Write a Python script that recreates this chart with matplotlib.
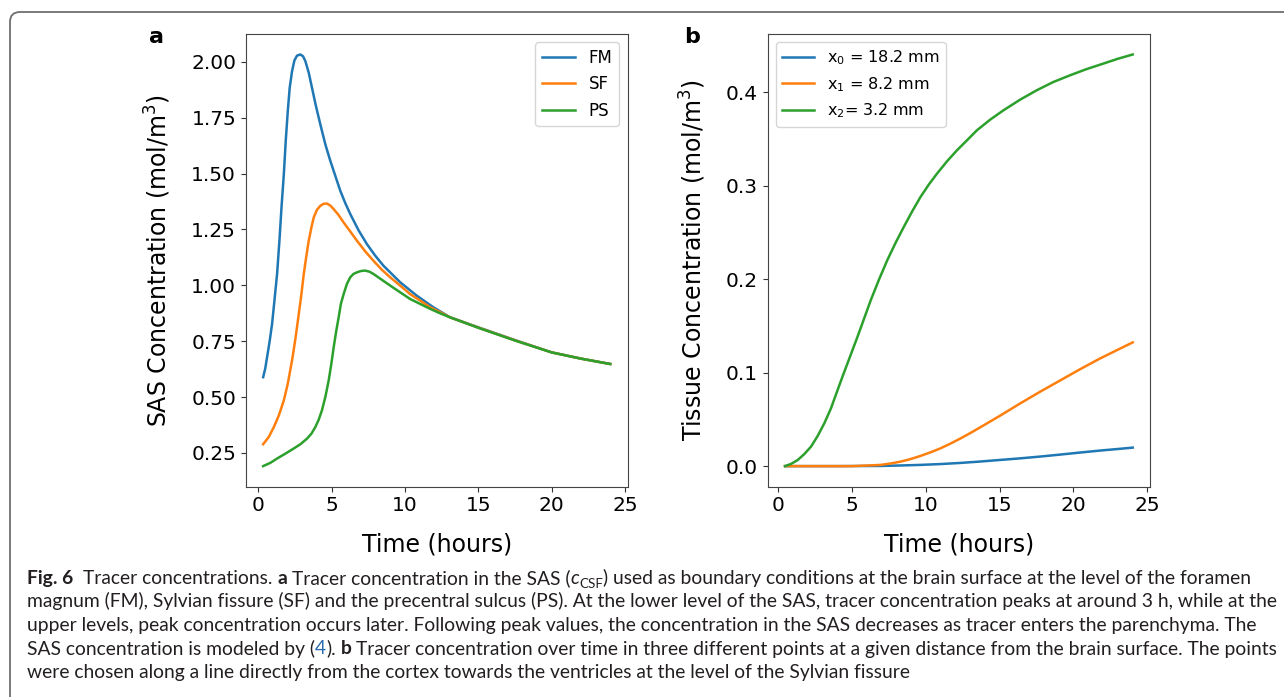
import matplotlib
matplotlib.use("Agg")
import matplotlib.pyplot as plt
from matplotlib.patches import FancyBboxPatch
from matplotlib.transforms import IdentityTransform

# panel a: SAS concentration (mol/m^3) vs time (hours)
fm_t = [0.33, 0.47, 0.6, 0.78, 0.94, 1.1, 1.28, 1.44, 1.58, 1.74, 1.87, 2.01, 2.14, 2.3,
        2.46, 2.64, 2.87, 3.05, 3.21, 3.44, 3.66, 3.93, 4.23, 4.57, 4.91, 5.25, 5.59, 5.93,
        6.27, 6.83, 7.4, 7.97, 8.53, 9.67, 10.8, 11.93, 13.07, 15, 17.5, 20, 22, 24]
fm = [0.589, 0.627, 0.679, 0.753, 0.828, 0.932, 1.051, 1.2, 1.348, 1.497, 1.646, 1.78, 1.884, 1.958,
      2.006, 2.028, 2.033, 2.025, 2.003, 1.951, 1.884, 1.802, 1.72, 1.631, 1.557, 1.49, 1.423, 1.368,
      1.319, 1.247, 1.185, 1.133, 1.088, 1.014, 0.954, 0.902, 0.857, 0.812, 0.755, 0.70, 0.672, 0.648]
sf_t = [0.33, 0.72, 1.06, 1.4, 1.74, 2.01, 2.3, 2.53, 2.76, 2.94, 3.1, 3.28, 3.44, 3.62,
        3.78, 4.0, 4.23, 4.46, 4.68, 4.91, 5.14, 5.48, 5.82, 6.27, 6.72, 7.29, 7.85, 8.42,
        8.99, 9.67, 10.35, 11.03, 11.71, 12.39, 13.07, 15, 17.5, 20, 22, 24]
sf = [0.289, 0.322, 0.366, 0.418, 0.485, 0.56, 0.664, 0.761, 0.872, 0.961, 1.051, 1.133, 1.2, 1.259,
      1.304, 1.338, 1.356, 1.365, 1.366, 1.357, 1.341, 1.314, 1.281, 1.241, 1.2, 1.152, 1.11, 1.07,
      1.036, 0.999, 0.961, 0.932, 0.902, 0.88, 0.857, 0.811, 0.754, 0.70, 0.672, 0.648]
ps_t = [0.33, 0.83, 1.28, 1.85, 2.42, 2.87, 3.32, 3.62, 3.89, 4.12, 4.34, 4.57, 4.8, 4.98,
        5.14, 5.32, 5.48, 5.63, 5.82, 6.04, 6.27, 6.49, 6.72, 6.99, 7.29, 7.58, 7.85, 8.42,
        8.99, 9.67, 10.35, 11.03, 11.71, 12.39, 13.07, 15, 17.5, 20, 22, 24]
ps = [0.191, 0.206, 0.225, 0.247, 0.27, 0.289, 0.314, 0.336, 0.366, 0.399, 0.441, 0.5, 0.575, 0.649,
      0.723, 0.798, 0.857, 0.917, 0.961, 1.006, 1.036, 1.051, 1.058, 1.064, 1.066, 1.061, 1.051, 1.025,
      0.999, 0.969, 0.939, 0.917, 0.895, 0.875, 0.857, 0.81, 0.753, 0.70, 0.672, 0.648]
sas_labels = ["FM", "SF", "PS"]

# panel b: tissue concentration (mol/m^3) vs time (hours)
x0_t = [0.45, 4.0, 7.0, 8.28, 9.63, 10.98, 12.33, 13.68, 15.03, 16.38, 17.73, 19.08, 20.43,
        21.78, 23.13, 24.02]
x0 = [0.0, 0.0, 0.0002, 0.0007, 0.0013, 0.0022, 0.0034, 0.0049, 0.0066, 0.0083, 0.0102, 0.0123,
      0.0145, 0.0166, 0.0185, 0.0198]
x1_t = [0.45, 3.0, 5.0, 6.25, 6.93, 7.6, 8.28, 8.95, 9.63, 10.3, 10.98, 11.65, 12.33, 13.0,
        13.68, 14.35, 15.03, 16.38, 17.73, 19.08, 20.43, 21.78, 23.13, 24.02]
x1 = [0.0, 0.0, 0.0, 0.0008, 0.0013, 0.0028, 0.0048, 0.0075, 0.0109, 0.0147, 0.019, 0.024, 0.0295,
      0.0353, 0.0415, 0.0477, 0.054, 0.067, 0.0795, 0.0915, 0.1035, 0.115, 0.1255, 0.1324]
x2_t = [0.45, 0.86, 1.31, 1.76, 2.21, 2.66, 3.11, 3.56, 4.01, 4.34, 4.68, 5.02, 5.36, 5.81,
        6.26, 6.82, 7.38, 7.94, 8.5, 9.07, 9.63, 10.19, 10.75, 11.43, 12.1, 12.78, 13.45,
        14.35, 15.25, 16.38, 17.5, 18.63, 19.75, 20.88, 22.0, 23.01, 24.02]
x2 = [0.0, 0.0024, 0.0066, 0.013, 0.0209, 0.0323, 0.0458, 0.0618, 0.0814, 0.0957, 0.1099, 0.1242,
      0.1384, 0.158, 0.1776, 0.1997, 0.2204, 0.2389, 0.256, 0.2727, 0.288, 0.3012, 0.313, 0.3262,
      0.3379, 0.3486, 0.3593, 0.3707, 0.3807, 0.3921, 0.4021, 0.411, 0.4181, 0.4248, 0.4306,
      0.4359, 0.4405]
tissue_labels = ["x$_0$ = 18.2 mm", "x$_1$ = 8.2 mm", "x$_2$= 3.2 mm"]

W, H = 1284, 697
plt.rcParams['font.family'] = 'DejaVu Sans'
fig = plt.figure(figsize=(W / 100, H / 100), dpi=100)

# rounded frame round the whole figure panel
frame = FancyBboxPatch((10, -40), 1320, H - 12 + 40, boxstyle="round,pad=0,rounding_size=10",
                       transform=IdentityTransform(), fill=False, edgecolor='#6e6e6e', lw=1.3)
fig.add_artist(frame)

ax1 = fig.add_axes([245.8 / W, 1 - 486.7 / H, 381.8 / W, 452.8 / H])
ax2 = fig.add_axes([767.7 / W, 1 - 486.7 / H, 382.4 / W, 452.8 / H])

ax1.plot(fm_t, fm, lw=1.8, label=sas_labels[0])
ax1.plot(sf_t, sf, lw=1.8, label=sas_labels[1])
ax1.plot(ps_t, ps, lw=1.8, label=sas_labels[2])
ax1.set_xticks([0, 5, 10, 15, 20, 25])
ax1.set_yticks([0.25, 0.5, 0.75, 1.0, 1.25, 1.5, 1.75, 2.0])
ax1.set_xlabel("Time (hours)", fontsize=17, labelpad=12)
ax1.set_ylabel("SAS Concentration (mol/m$^3$)", fontsize=17, labelpad=13)
ax1.legend(loc='upper right', fontsize=12)

ax2.plot(x0_t, x0, lw=1.8, label=tissue_labels[0])
ax2.plot(x1_t, x1, lw=1.8, label=tissue_labels[1])
ax2.plot(x2_t, x2, lw=1.8, label=tissue_labels[2])
ax2.set_xticks([0, 5, 10, 15, 20, 25])
ax2.set_yticks([0.0, 0.1, 0.2, 0.3, 0.4])
ax2.set_xlabel("Time (hours)", fontsize=17, labelpad=12)
ax2.set_ylabel("Tissue Concentration (mol/m$^3$)", fontsize=17, labelpad=13)
ax2.legend(loc='upper left', fontsize=11.5)

for ax in (ax1, ax2):
    ax.tick_params(labelsize=14.5, color='#333333')
    for s in ax.spines.values():
        s.set_color('#444444')

fig.text(156 / W, 1 - 43 / H, "a", fontsize=16, weight='bold', ha='center', va='baseline')
fig.text(692 / W, 1 - 43 / H, "b", fontsize=16, weight='bold', ha='center', va='baseline')

# caption, drawn run by run so bold / italic / subscript pieces sit inline
cap_font = ['Liberation Sans Narrow', 'Lato', 'DejaVu Sans']
ink = '#231f20'
N = {}
B = {'weight': 'bold'}
I = {'style': 'italic'}
SUB = {'scale': 0.7, 'dy': 4}
LINK = {'color': '#2b6cb0'}
SP = (" ", None)

lines = [
    [("Fig. 6", B), SP, SP, ("Tracer concentrations.", N), SP, ("a", B), SP,
     ("Tracer concentration in the SAS (", N), ("c", I), ("CSF", SUB),
     (") used as boundary conditions at the brain surface at the level of the foramen", N)],
    [("magnum (FM), Sylvian fissure (SF) and the precentral sulcus (PS). At the lower level of the SAS, "
      "tracer concentration peaks at around 3 h, while at the", N)],
    [("upper levels, peak concentration occurs later. Following peak values, the concentration in the SAS "
      "decreases as tracer enters the parenchyma. The", N)],
    [("SAS concentration is modeled by (", N), ("4", LINK), (").", N), SP, ("b", B), SP,
     ("Tracer concentration over time in three different points at a given distance from the brain "
      "surface. The points", N)],
    [("were chosen along a line directly from the cortex towards the ventricles at the level of the "
      "Sylvian fissure", N)],
]

renderer = fig.canvas.get_renderer()


def make(x, y, txt, kw, size):
    kw = kw or {}
    return fig.text(x / W, 1 - (y + kw.get('dy', 0)) / H, txt,
                    fontsize=size * kw.get('scale', 1), family=cap_font,
                    weight=kw.get('weight', 'normal'), style=kw.get('style', 'normal'),
                    color=kw.get('color', ink), ha='left', va='baseline')


def text_w(txt, size, kw=None):
    t = make(0, 0, txt, kw, size)
    w = t.get_window_extent(renderer).width
    t.remove()
    return w


# fit the caption size to the width of the second line
size = 10 * (1276 - 27) / text_w(lines[1][0][0], 10)
size = min(size, 15)
space_w = text_w("a a", size) - text_w("aa", size)

for i, runs in enumerate(lines):
    x = 27
    y = 584 + i * 23.5
    for txt, kw in runs:
        if kw is None:
            x += space_w
            continue
        t = make(x, y, txt, kw, size)
        x += t.get_window_extent(renderer).width

fig.savefig("out.png", dpi=100)
